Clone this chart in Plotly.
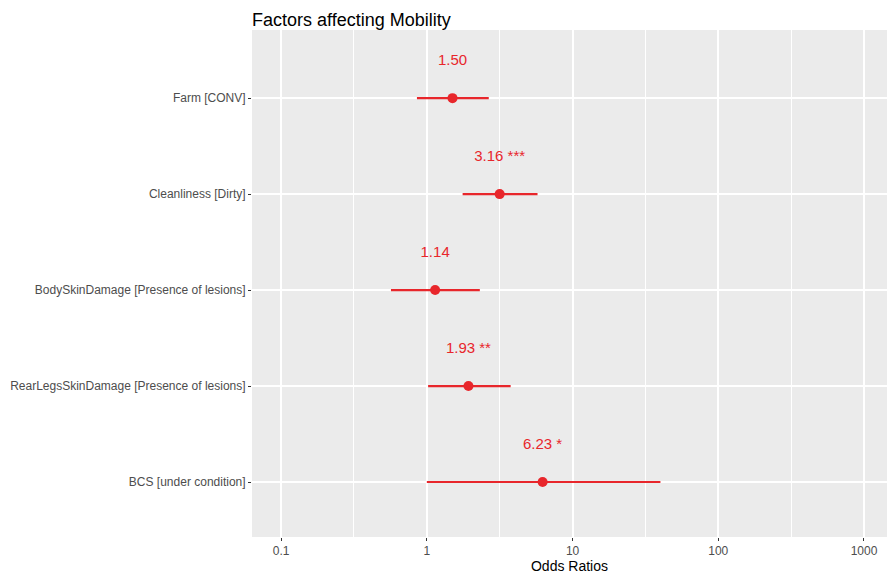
import plotly.graph_objects as go

terms = ["Farm [CONV]", "Cleanliness [Dirty]", "BodySkinDamage [Presence of lesions]",
         "RearLegsSkinDamage [Presence of lesions]", "BCS [under condition]"]
odds = [1.50, 3.16, 1.14, 1.93, 6.23]
ci_low = [0.855, 1.76, 0.567, 1.02, 1.0]
ci_high = [2.66, 5.75, 2.31, 3.76, 40.1]
stars = ["", " ***", "", " **", " *"]
x_ticks = [0.1, 1, 10, 100, 1000]
x_tick_labels = ["0.1", "1", "10", "100", "1000"]
x_minor = [0.316, 3.16, 31.6, 316]

n = len(terms)
ypos = [n - i for i in range(n)]
red = "#E8262B"

W, H = 887, 577

fig = go.Figure()
fig.add_trace(go.Scatter(
    x=odds, y=ypos, mode="markers",
    marker=dict(color=red, size=10),
    error_x=dict(type="data", symmetric=False,
                 array=[h - o for h, o in zip(ci_high, odds)],
                 arrayminus=[o - l for o, l in zip(odds, ci_low)],
                 color=red, thickness=2.2, width=0),
    showlegend=False, hoverinfo="skip"))
fig.add_trace(go.Scatter(
    x=odds, y=[y + 0.385 for y in ypos], mode="text",
    text=[f"{o:.2f}{s}" for o, s in zip(odds, stars)],
    textfont=dict(color=red, size=15, family="Liberation Sans"),
    textposition="middle center", showlegend=False, hoverinfo="skip"))

fig.update_layout(
    width=W, height=H,
    margin=dict(l=252, r=0, t=30, b=40),
    paper_bgcolor="white", plot_bgcolor="#EBEBEB",
    font=dict(family="Liberation Sans", color="#4D4D4D", size=12),
    title=dict(text="Factors affecting Mobility", x=252 / W, xanchor="left",
               y=1 - 20 / H, yanchor="middle",
               font=dict(size=18, color="black")),
    xaxis=dict(type="log", range=[-1.2, 3.158],
               tickvals=x_ticks, ticktext=x_tick_labels,
               showgrid=True, gridcolor="white", gridwidth=1.6,
               ticks="outside", ticklen=3, tickcolor="#333333",
               tickfont=dict(size=12, color="#4D4D4D"),
               minor=dict(tickvals=x_minor, showgrid=True, gridcolor="white",
                          gridwidth=0.7, ticks=""),
               zeroline=False, showline=False,
               title=dict(text="Odds Ratios", font=dict(size=14, color="black"),
                          standoff=2)),
    yaxis=dict(range=[0.427, 5.71], tickvals=ypos, ticktext=terms,
               showgrid=True, gridcolor="white", gridwidth=1.6,
               ticks="outside", ticklen=3, tickcolor="#333333",
               tickfont=dict(size=12, color="#4D4D4D"),
               zeroline=False, showline=False),
)

fig.write_html("out.html", config={"displayModeBar": False},
               post_script="document.body.style.margin='0';document.body.style.overflow='hidden';")
